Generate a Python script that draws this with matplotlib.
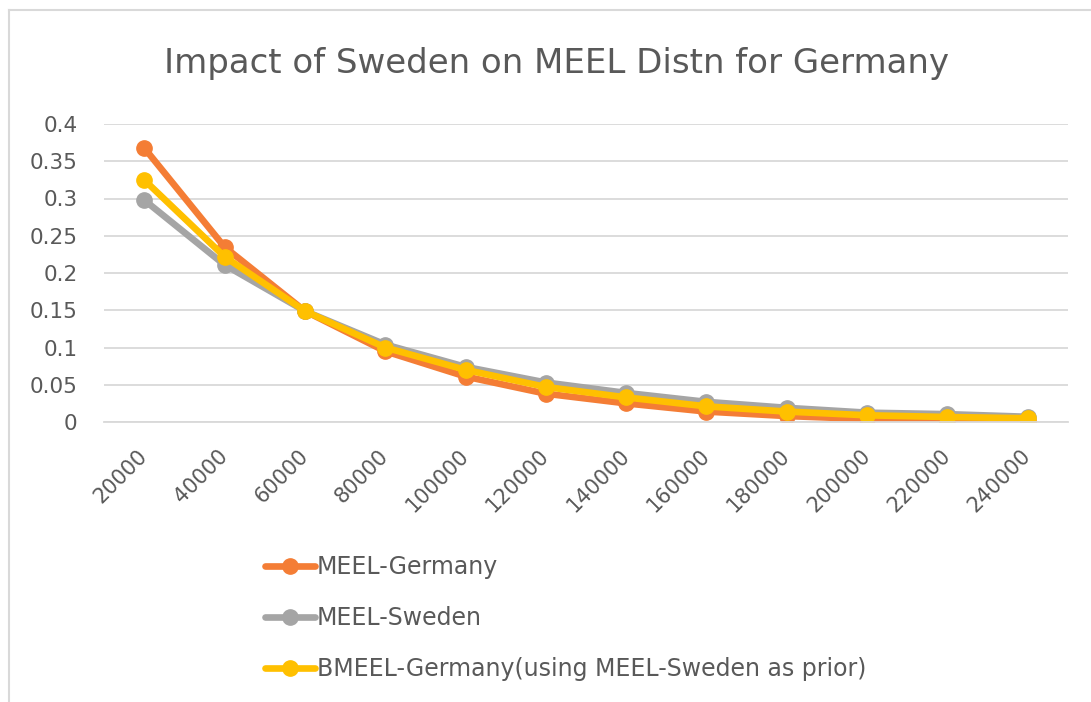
import matplotlib.pyplot as plt
from matplotlib.lines import Line2D

categories = ['20000', '40000', '60000', '80000', '100000', '120000',
              '140000', '160000', '180000', '200000', '220000', '240000']
meel_germany = [0.368, 0.235, 0.149, 0.095, 0.061, 0.038, 0.025, 0.014, 0.008, 0.004, 0.002, 0.002]
meel_sweden = [0.298, 0.211, 0.149, 0.104, 0.074, 0.053, 0.039, 0.027, 0.019, 0.0125, 0.0105, 0.007]
bmeel_germany = [0.325, 0.222, 0.149, 0.100, 0.070, 0.047, 0.033, 0.021, 0.014, 0.009, 0.0067, 0.005]

series = [
    ('MEEL-Germany', meel_germany, '#F47D35'),
    ('MEEL-Sweden', meel_sweden, '#A5A5A5'),
    ('BMEEL-Germany(using MEEL-Sweden as prior)', bmeel_germany, '#FFC000'),
]

plt.rcParams['font.family'] = ['DejaVu Sans']
txt = '#595959'
grid = '#D9D9D9'

fig = plt.figure(figsize=(10.91, 7.02), dpi=100)
ax = fig.add_axes([104 / 1091, 1 - 422 / 702, (1068 - 104) / 1091, (422 - 124) / 702])

x = list(range(len(categories)))
for label, vals, color in series:
    ax.plot(x, vals, color=color, linewidth=4.8, marker='o', markersize=11,
            label=label, solid_capstyle='round')

ax.set_xlim(-0.5, len(categories) - 0.5)
ax.set_ylim(0, 0.4)
ax.set_yticks([0, 0.05, 0.1, 0.15, 0.2, 0.25, 0.3, 0.35, 0.4])
ax.set_yticklabels(['0', '0.05', '0.1', '0.15', '0.2', '0.25', '0.3', '0.35', '0.4'])
ax.set_xticks(x)
ax.set_xticklabels(categories, rotation=45, ha='right', va='center', rotation_mode='anchor')
ax.tick_params(axis='y', length=0, pad=19, labelsize=15.5, labelcolor=txt)
ax.tick_params(axis='x', length=0, pad=22, labelsize=15, labelcolor=txt)

ax.grid(axis='y', color=grid, linewidth=1.3)
ax.set_axisbelow(True)
for s in ['top', 'right', 'left']:
    ax.spines[s].set_visible(False)
ax.spines['bottom'].set_color(grid)
ax.spines['bottom'].set_linewidth(1.3)

fig.text(556 / 1091, 1 - 63 / 702, 'Impact of Sweden on MEEL Distn for Germany',
         ha='center', va='center', fontsize=24.5, color=txt)

fig.legend(loc='center left', bbox_to_anchor=(265 / 1091, 1 - 618 / 702),
           frameon=False, fontsize=17, handlelength=2.1, handletextpad=0.1,
           labelspacing=1.15, borderpad=0, borderaxespad=0, labelcolor=txt)

# chart frame (cut at right and bottom)
fig.add_artist(Line2D([9 / 1091, 1], [1 - 10 / 702, 1 - 10 / 702], transform=fig.transFigure,
                      color=grid, linewidth=1.5))
fig.add_artist(Line2D([9 / 1091, 9 / 1091], [0, 1 - 10 / 702], transform=fig.transFigure,
                      color=grid, linewidth=1.5))

fig.savefig('out.png', dpi=100)
